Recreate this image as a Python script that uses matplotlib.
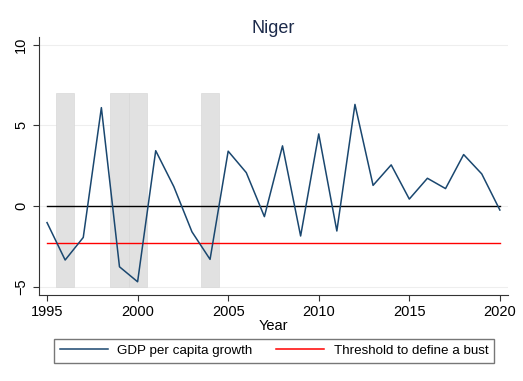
import matplotlib
matplotlib.use("Agg")
import matplotlib.pyplot as plt
from matplotlib.lines import Line2D

plt.rcParams['font.family'] = ['Liberation Sans', 'DejaVu Sans']

years = list(range(1995, 2021))
growth = [-1.03, -3.35, -1.95, 6.1, -3.77, -4.7, 3.43, 1.2, -1.6, -3.31,
          3.4, 2.07, -0.66, 3.73, -1.86, 4.47, -1.55, 6.3, 1.28, 2.55,
          0.43, 1.72, 1.08, 3.19, 1.99, -0.25]
threshold = -2.3
bust_years = [1996, 1999, 2000, 2004]
bust_top = 7
bust_bottom = -5

navy = '#1a476f'

fig = plt.figure(figsize=(5.23, 3.81), dpi=100)
ax = fig.add_axes([0.074, 0.2257, 0.897, 0.678])

# shaded bust years
for b in bust_years:
    ax.bar(b, bust_top - bust_bottom, bottom=bust_bottom, width=1.0,
           color='#e1e1e1', edgecolor='#d4d4d4', linewidth=0.4, zorder=1)

for g in [-5, 0, 5, 10]:
    ax.axhline(g, color='#eeeeee', linewidth=0.8, zorder=0)

ax.plot([years[0], years[-1]], [0, 0], color='black', linewidth=1.0, zorder=2)
ax.plot([years[0], years[-1]], [threshold, threshold], color='#ff0000',
        linewidth=1.0, zorder=2)
ax.plot(years, growth, color=navy, linewidth=1.1, zorder=3)

ax.set_xlim(1994.54, 2020.44)
ax.set_ylim(-5.52, 10.5)
ax.set_xticks([1995, 2000, 2005, 2010, 2015, 2020])
ax.set_yticks([-5, 0, 5, 10])
ax.tick_params(axis='both', labelsize=10.5, length=4, color='#333333')
for lab in ax.get_yticklabels():
    lab.set_rotation(90)
    lab.set_va('center')
ax.spines['top'].set_visible(False)
ax.spines['right'].set_visible(False)
ax.spines['left'].set_color('#333333')
ax.spines['bottom'].set_color('#333333')
ax.set_xlabel('Year', fontsize=10.5, labelpad=0)
ax.set_title('Niger', fontsize=13, color='#1c2a4a', pad=3)

handles = [Line2D([0], [0], color=navy, linewidth=1.1),
           Line2D([0], [0], color='#ff0000', linewidth=1.1)]
fig.legend(handles, ['GDP per capita growth', 'Threshold to define a bust'],
           loc='center', bbox_to_anchor=(0.524, 0.079), ncol=2, fontsize=9.6,
           frameon=True, fancybox=False, edgecolor='#555555',
           handlelength=3.6, handletextpad=0.7, columnspacing=1.8,
           borderpad=0.45)

fig.savefig('out.png', dpi=100)
